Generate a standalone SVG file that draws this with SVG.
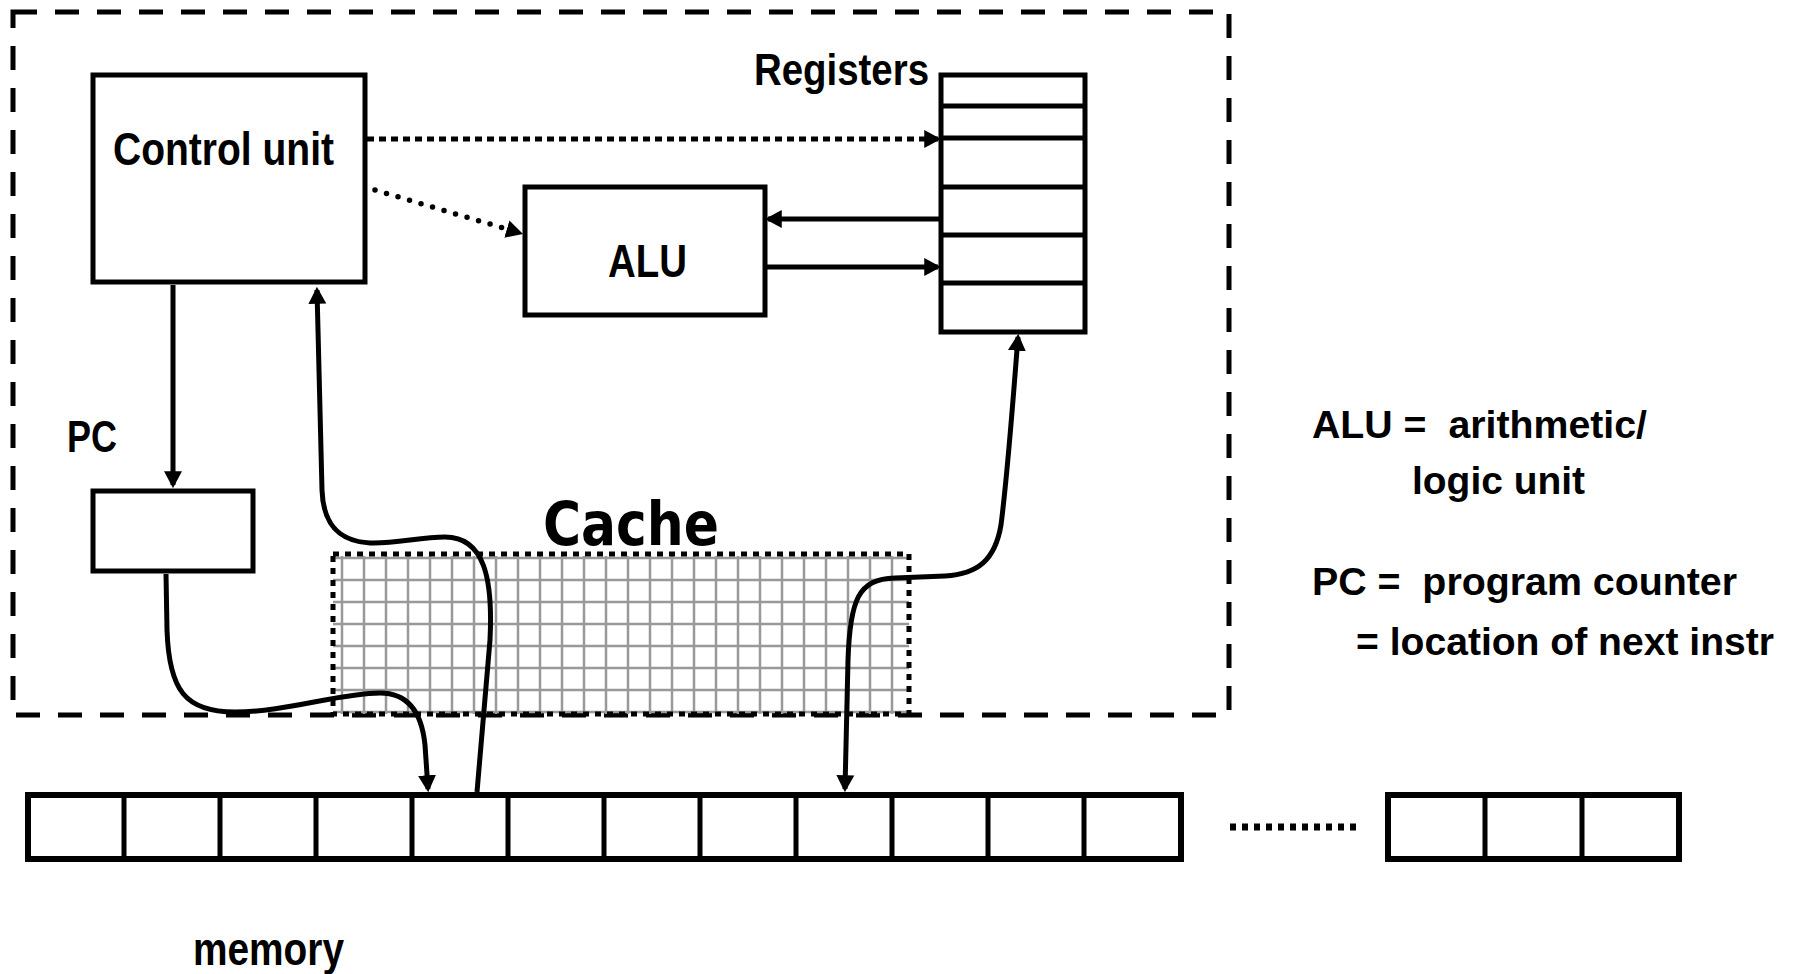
<svg xmlns="http://www.w3.org/2000/svg" width="1797" height="974" viewBox="0 0 1797 974">
<defs>
<marker id="ah" viewBox="0 0 16 18" refX="13" refY="9" markerWidth="17" markerHeight="19" markerUnits="userSpaceOnUse" orient="auto-start-reverse">
<path d="M0,0.5 L16,9 L0,17.5 z" fill="#000"/>
</marker>
<style>
.box{fill:#fff;stroke:#000;stroke-width:5}
.lbl{font-family:"Liberation Sans",Arial,sans-serif;font-weight:bold;fill:#000}
.note{font-family:"Liberation Sans",Arial,sans-serif;font-weight:bold;font-size:39px;fill:#000}
.conn{fill:none;stroke:#000;stroke-width:5}
.curve{fill:none;stroke:#000;stroke-width:5}
.grid{fill:none;stroke:#999;stroke-width:2.5}
</style>
</defs>
<rect width="1797" height="974" fill="#fff"/>

<g id="cpu-boundary">
<rect x="13" y="12" width="1216" height="703" fill="none" stroke="#000" stroke-width="5" stroke-dasharray="24 18"/>
</g>

<g id="cache">
<path class="grid" d="M342,556V714M364,556V714M386,556V714M408,556V714M430,556V714M452,556V714M474,556V714M496,556V714M518,556V714M540,556V714M562,556V714M584,556V714M606,556V714M628,556V714M650,556V714M672,556V714M694,556V714M716,556V714M738,556V714M760,556V714M782,556V714M804,556V714M826,556V714M848,556V714M870,556V714M892,556V714M333,558H909M333,580H909M333,602H909M333,624H909M333,646H909M333,668H909M333,690H909M333,712H909"/>
<rect x="333" y="554" width="576" height="160" fill="none" stroke="#000" stroke-width="5" stroke-dasharray="6 6"/>
<text x="543" y="545" font-size="60" font-weight="bold" textLength="176" lengthAdjust="spacingAndGlyphs" style="font-family:'DejaVu Sans',sans-serif">Cache</text>
</g>

<g id="control-unit">
<rect class="box" x="93" y="75" width="272" height="207"/>
<text class="lbl" x="113" y="165" font-size="47" textLength="221" lengthAdjust="spacingAndGlyphs">Control unit</text>
</g>

<g id="alu">
<rect class="box" x="525" y="187" width="240" height="128"/>
<text class="lbl" x="608" y="277" font-size="47" textLength="79" lengthAdjust="spacingAndGlyphs">ALU</text>
</g>

<g id="registers">
<rect class="box" x="941" y="75" width="144" height="257"/>
<path d="M941,106H1085M941,138H1085M941,187H1085M941,235H1085M941,283H1085" stroke="#000" stroke-width="5" fill="none"/>
<text class="lbl" x="754" y="85" font-size="44" textLength="175" lengthAdjust="spacingAndGlyphs">Registers</text>
</g>

<g id="pc">
<rect class="box" x="93" y="491" width="160" height="80"/>
<text class="lbl" x="67" y="452" font-size="45" textLength="50" lengthAdjust="spacingAndGlyphs">PC</text>
</g>

<g id="memory">
<rect x="28" y="795" width="1153" height="64" fill="#fff" stroke="#000" stroke-width="6"/>
<path d="M124,795V859M220,795V859M316,795V859M412,795V859M508,795V859M604,795V859M700,795V859M796,795V859M892,795V859M988,795V859M1084,795V859" stroke="#000" stroke-width="5"/>
<line x1="1230" y1="827" x2="1356" y2="827" stroke="#000" stroke-width="7" stroke-dasharray="6 6"/>
<rect x="1388" y="795" width="291" height="64" fill="#fff" stroke="#000" stroke-width="6"/>
<path d="M1485,795V859M1582,795V859" stroke="#000" stroke-width="5"/>
<text class="lbl" x="193" y="965" font-size="47" textLength="151" lengthAdjust="spacingAndGlyphs">memory</text>
</g>

<g id="legend">
<text class="note" x="1312" y="438" xml:space="preserve" textLength="335" lengthAdjust="spacingAndGlyphs">ALU =  arithmetic/</text>
<text class="note" x="1412" y="494" textLength="173" lengthAdjust="spacingAndGlyphs">logic unit</text>
<text class="note" x="1312" y="595" xml:space="preserve" textLength="425" lengthAdjust="spacingAndGlyphs">PC =  program counter</text>
<text class="note" x="1356" y="655" textLength="418" lengthAdjust="spacingAndGlyphs">= location of next instr</text>
</g>

<g id="connectors">
<line x1="367" y1="139" x2="938" y2="139" stroke="#000" stroke-width="5" stroke-dasharray="7 5" marker-end="url(#ah)"/>
<line x1="375" y1="190" x2="520" y2="233" stroke="#000" stroke-width="5.5" stroke-dasharray="0 12" stroke-linecap="round" marker-end="url(#ah)"/>
<line class="conn" x1="941" y1="219" x2="768" y2="219" marker-end="url(#ah)"/>
<line class="conn" x1="765" y1="267" x2="938" y2="267" marker-end="url(#ah)"/>
<line class="conn" x1="173" y1="285" x2="173" y2="485" marker-end="url(#ah)"/>
<path class="curve" d="M477,792 L490,640 C493,580 485,537 445,537 C420,537 395,544 370,543 C335,541 323,520 322,490 L317,290" marker-end="url(#ah)"/>
<path class="curve" d="M166,574 L167,630 C169,690 185,712 235,712 C285,712 340,693 380,693 C410,693 422,715 425,745 L428,789" marker-end="url(#ah)"/>
<path class="curve" d="M845,789 L848,660 C850,600 858,579 895,578 L945,576 C978,574 995,560 1001,525 C1008,470 1013,400 1018,337" marker-start="url(#ah)" marker-end="url(#ah)"/>
</g>
</svg>
